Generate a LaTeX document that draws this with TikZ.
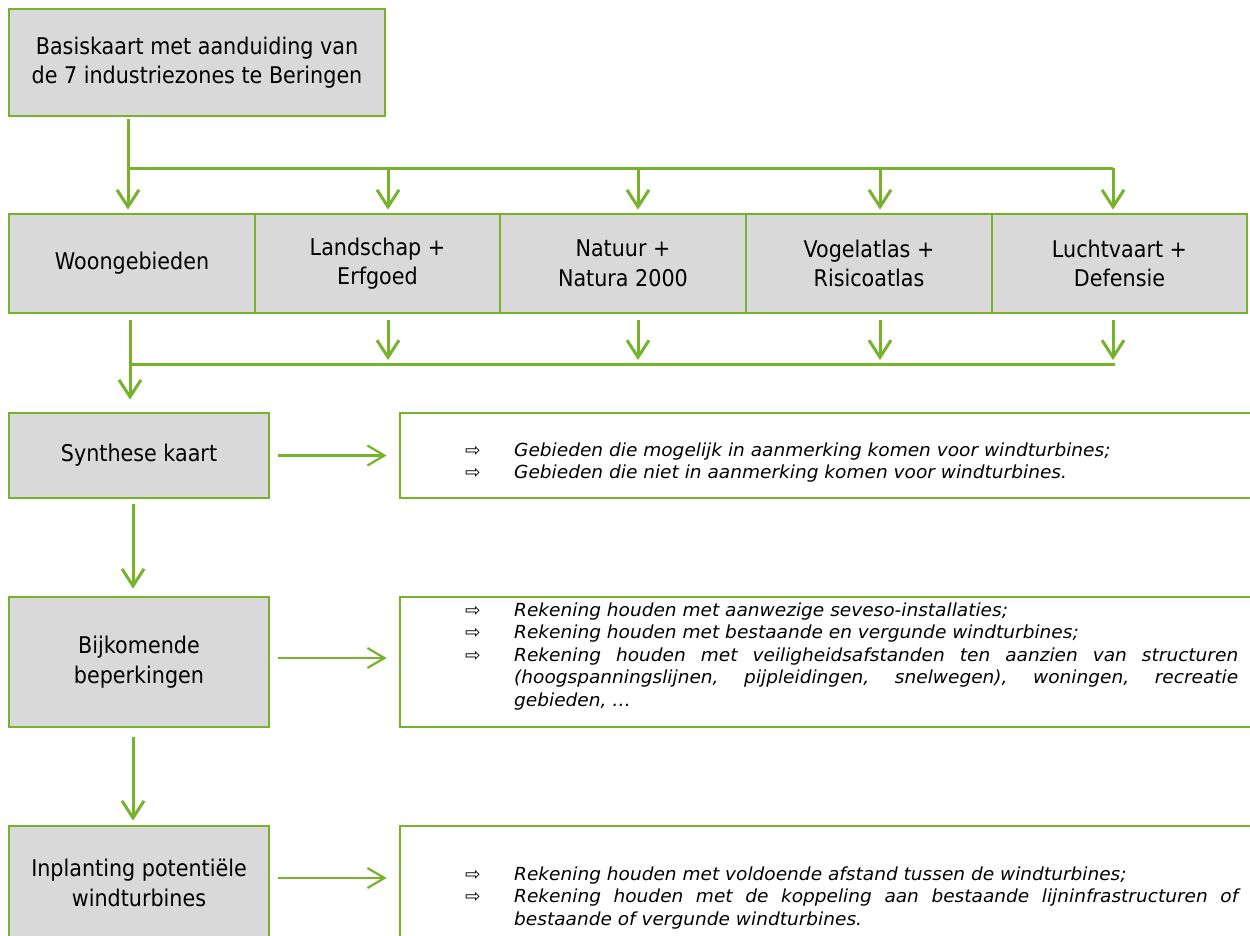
\documentclass[tikz,border=0pt]{standalone}
\usepackage{fontspec}
\setmainfont{DejaVu Sans}[FakeStretch=0.9]
\newfontfamily\notefont{DejaVu Sans}[FakeStretch=1.03]
\usetikzlibrary{arrows.meta}
\definecolor{grn}{HTML}{77B22B}
\definecolor{boxgray}{HTML}{D9D9D9}
\newcommand{\bitem}[1]{\hangindent=49pt\hangafter=1\noindent\makebox[49pt][l]{\upshape ⇨}#1\par}
\tikzset{
  graybox/.style={draw=grn, line width=2.8pt, fill=boxgray, inner sep=0pt, align=center,
    font=\fontsize{23}{29.5}\selectfont},
  notebox/.style={draw=grn, line width=2.8pt, fill=white, inner sep=0pt},
  notetext/.style={anchor=north west, inner sep=0pt, text width=773pt, align=justify,
    font=\notefont\itshape\fontsize{18}{22.5}\selectfont},
  conn/.style={draw=grn, line width=3pt},
  arr/.style={conn, -{Straight Barb[length=17pt,width=22pt]}},
  harr/.style={draw=grn, line width=2.2pt, -{Straight Barb[length=17pt,width=20pt]}},
}
\begin{document}
\begin{tikzpicture}[x=1pt,y=-1pt]
\useasboundingbox (0,0) rectangle (1250,935);
\clip (0,0) rectangle (1250,935);

% top box
\node[graybox, minimum width=376pt, minimum height=107pt] (top) at (197,62.5)
  {Basiskaart met aanduiding van\\de 7 industriezones te Beringen};

% row of themes
\node[graybox, minimum width=246pt, minimum height=99pt] (w) at (132,263.5) {Woongebieden};
\node[graybox, minimum width=245pt, minimum height=99pt] (l) at (377.5,263.5) {Landschap +\\Erfgoed};
\node[graybox, minimum width=246pt, minimum height=99pt] (n) at (623,263.5) {Natuur +\\Natura 2000};
\node[graybox, minimum width=246pt, minimum height=99pt] (v) at (869,263.5) {Vogelatlas +\\Risicoatlas};
\node[graybox, minimum width=255pt, minimum height=99pt] (d) at (1119.5,263.5) {Luchtvaart +\\Defensie};

% left column
\node[graybox, minimum width=260pt, minimum height=85pt] (syn) at (139,455.5) {Synthese kaart};
\node[graybox, minimum width=260pt, minimum height=130pt] (bij) at (139,662) {Bijkomende\\beperkingen};
\node[graybox, minimum width=260pt, minimum height=114pt] (inp) at (139,883) {Inplanting potentiële\\windturbines};

% right note boxes
\node[notebox, minimum width=860pt, minimum height=85pt] (n1) at (830,455.5) {};
\node[notebox, minimum width=860pt, minimum height=130pt] (n2) at (830,662) {};
\node[notebox, minimum width=860pt, minimum height=114pt] (n3) at (830,883) {};

\node[notetext] (t1) at (465,442.5) {%
\bitem{Gebieden die mogelijk in aanmerking komen voor windturbines;}
\bitem{Gebieden die niet in aanmerking komen voor windturbines.}};
\node[notetext] (t2) at (465,602.5) {%
\bitem{Rekening houden met aanwezige seveso-installaties;}
\bitem{Rekening houden met bestaande en vergunde windturbines;}
\bitem{Rekening houden met veiligheidsafstanden ten aanzien van structuren\linebreak (hoogspanningslijnen, pijpleidingen, snelwegen), woningen, recreatie\linebreak gebieden, …}};
\node[notetext] (t3) at (465,866.5) {%
\bitem{Rekening houden met voldoende afstand tussen de windturbines;}
\bitem{Rekening houden met de koppeling aan bestaande lijninfrastructuren of\linebreak bestaande of vergunde windturbines.}};

% column coordinates
\coordinate (c1) at (128,168);
\coordinate (c2) at (388,168);
\coordinate (c3) at (638,168);
\coordinate (c4) at (880,168);
\coordinate (c5) at (1113,168);
\coordinate (b1) at (130,364);
\coordinate (b5) at (1115,364);
\coordinate (k) at (133,0);

% top distribution
\draw[conn, shorten <=2pt] (c1 |- top.south) -- (c1);
\draw[conn] (c1) -- (c5);
\draw[arr, shorten >=3pt] (c1) -- (c1 |- w.north);
\foreach \c/\b in {c2/l, c3/n, c4/v, c5/d}
  \draw[arr, shorten >=3pt] (\c) -- (\c |- \b.north);

% collecting line
\foreach \c/\b in {c2/l, c3/n, c4/v, c5/d}
  \draw[arr, shorten <=6pt, shorten >=4pt] (\c |- \b.south) -- (\c |- b1);
\draw[conn] (b1) -- (b5);
\draw[arr, shorten <=6pt, shorten >=12pt] (b1 |- w.south) -- (b1 |- syn.north);

% vertical flow
\draw[arr, shorten <=5pt, shorten >=7pt] (k |- syn.south) -- (k |- bij.north);
\draw[arr, shorten <=9pt, shorten >=4pt] (k |- bij.south) -- (k |- inp.north);

% side arrows
\draw[harr, shorten <=8pt, shorten >=12pt] (syn.east) -- (n1.west);
\draw[harr, shorten <=8pt, shorten >=12pt] ([yshift=4pt]bij.east) -- ([yshift=4pt]n2.west);
\draw[harr, shorten <=8pt, shorten >=12pt] ([yshift=5pt]inp.east) -- ([yshift=5pt]n3.west);
\end{tikzpicture}
\end{document}
